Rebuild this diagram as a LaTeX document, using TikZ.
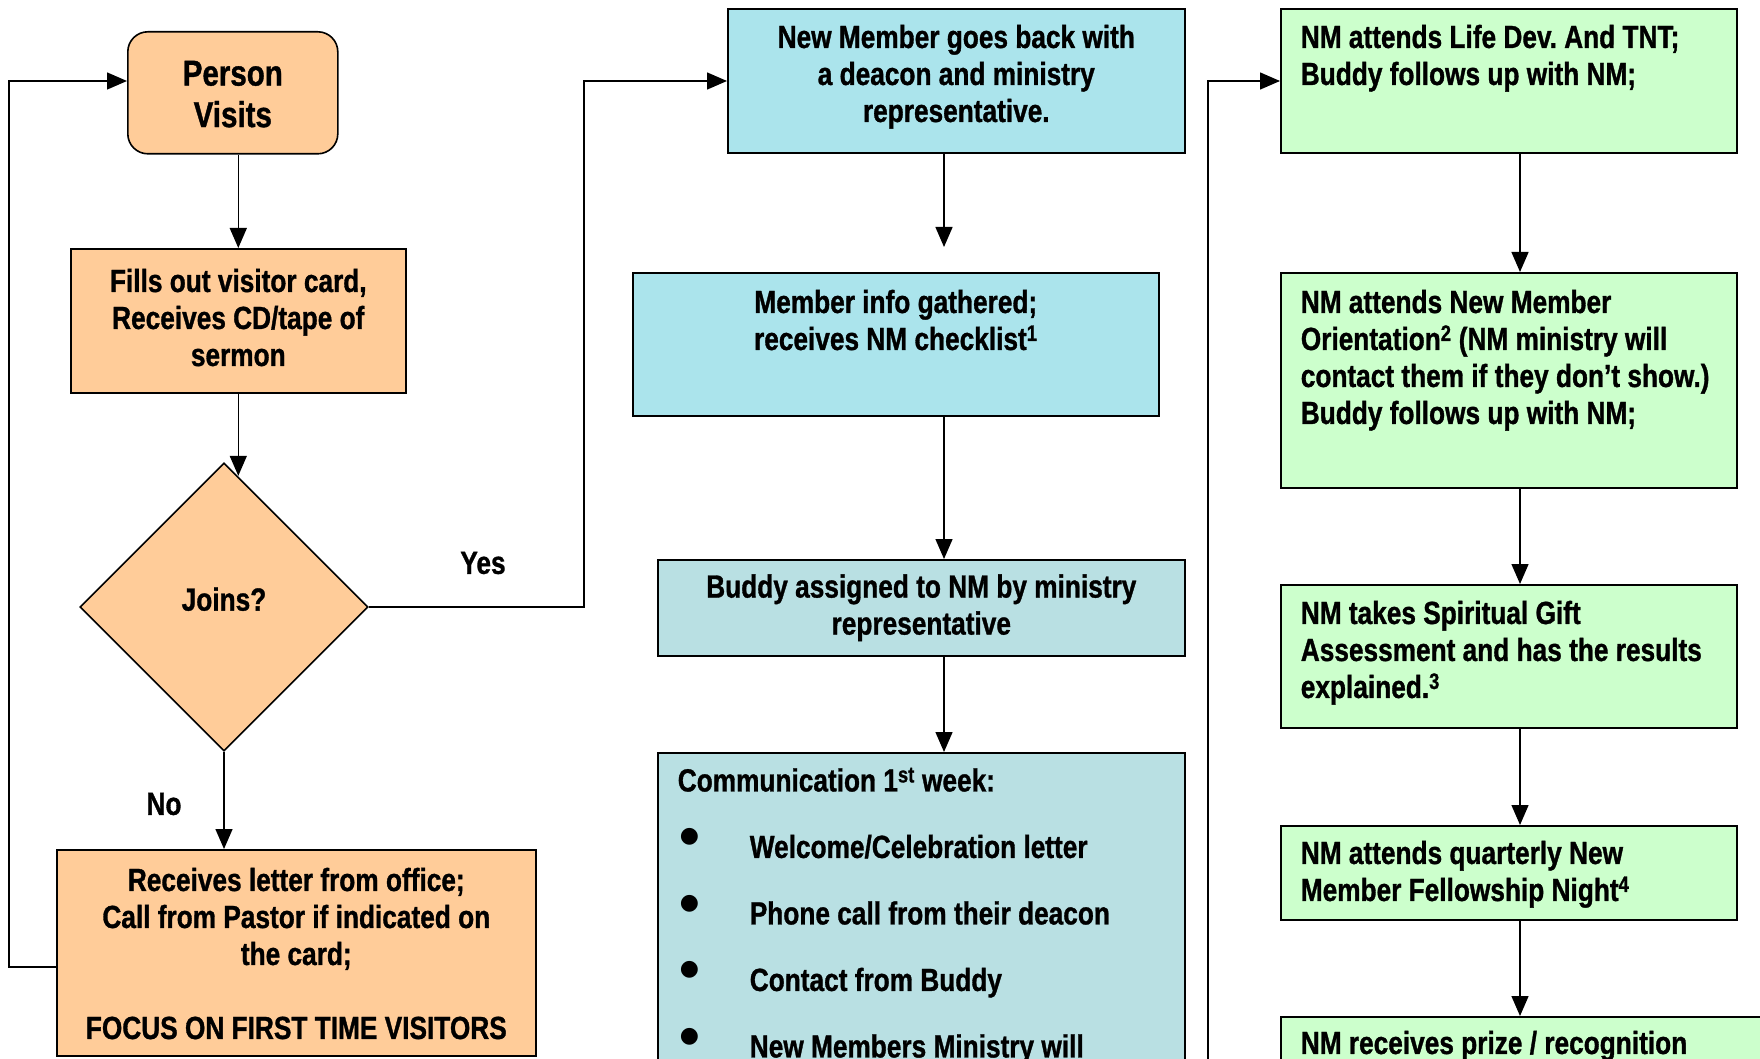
\documentclass[tikz,border=0pt]{standalone}
\usepackage{fontspec}
\setmainfont{Liberation Sans}[FakeStretch=0.82, BoldFeatures={FakeBold=1}]
\newfontfamily\symfont{DejaVu Sans}
\usetikzlibrary{shapes.geometric,arrows.meta,calc}
\definecolor{peach}{HTML}{FFCC99}
\definecolor{cyanA}{HTML}{ABE4EC}
\definecolor{cyanB}{HTML}{B9E0E3}
\definecolor{mint}{HTML}{CCFFCC}
\newcommand\blt{\hspace*{22pt}\makebox[70pt][l]{\raisebox{15pt}{\symfont\mdseries\fontsize{22}{22}\selectfont ●}}}
\begin{document}
\frenchspacing
\begin{tikzpicture}[x=1pt,y=-1pt,
  font=\bfseries\fontsize{32}{37}\selectfont,
  box/.style={draw, line width=1.6pt, inner sep=0pt, anchor=north west},
  conn/.style={line width=1.4pt},
  arr/.style={conn, -{Triangle[width=17pt,length=20pt]}},
  lbl/.style={inner sep=0pt}]
\useasboundingbox (0,0) rectangle (1760,1059);
\clip (0,0) rectangle (1760,1059);

% left column
\node[box, fill=peach, rounded corners=20pt] (pv) at (127,31)
  {\parbox[t][122pt][t]{210pt}{\vspace*{29pt}\centering\fontsize{36}{41.5}\selectfont Person\\Visits}};
\node[box, fill=peach] (fill) at (70,248)
  {\parbox[t][144pt][t]{335pt}{\vspace*{20pt}\centering Fills out visitor card,\\ Receives CD/tape of\\ sermon}};
\node[draw, line width=1.6pt, fill=peach, diamond, aspect=1, minimum width=288pt,
  minimum height=288pt, inner sep=0pt] (join) at (224,607) {\raisebox{16pt}{Joins?}};
\node[box, fill=peach] (recv) at (56,849)
  {\parbox[t][206pt][t]{479pt}{\vspace*{18pt}\centering Receives letter from office;\\ Call from Pastor if indicated on\\ the card;\\[37pt] FOCUS ON FIRST TIME VISITORS}};

% middle column
\node[box, fill=cyanA] (nm) at (727,8)
  {\parbox[t][144pt][t]{457pt}{\vspace*{16pt}\centering New Member goes back with\\ a deacon and ministry\\ representative.}};
\node[box, fill=cyanA] (info) at (632,272)
  {\parbox[t][143pt][t]{526pt}{\vspace*{17pt}\centering Member info gathered;\\ receives NM checklist\textsuperscript{1}}};
\node[box, fill=cyanB] (buddy) at (657,559)
  {\parbox[t][96pt][c]{527pt}{\centering Buddy assigned to NM by ministry\\ representative}};
\node[box, fill=cyanB] (comm) at (657,752)
  {\parbox[t][340pt][t]{527pt}{\raggedright\vspace*{15pt}%
   \hspace*{20pt}Communication 1\textsuperscript{st} week:\\[29.5pt]
   \blt Welcome/Celebration letter\\[29.5pt]
   \blt Phone call from their deacon\\[29.5pt]
   \blt Contact from Buddy\\[29.5pt]
   \blt New Members Ministry will}};

% right column
\node[box, fill=mint] (g1) at (1280,8)
  {\parbox[t][144pt][t]{456pt}{\vspace*{16pt}\raggedright\leftskip=20pt NM attends Life Dev. And TNT;\\ Buddy follows up with NM;}};
\node[box, fill=mint] (g2) at (1280,272)
  {\parbox[t][215pt][t]{456pt}{\vspace*{17pt}\raggedright\leftskip=20pt NM attends New Member\\ Orientation\textsuperscript{2} (NM ministry will\\ contact them if they don’t show.)\\ Buddy follows up with NM;}};
\node[box, fill=mint] (g3) at (1280,584)
  {\parbox[t][143pt][t]{456pt}{\vspace*{16pt}\raggedright\leftskip=20pt NM takes Spiritual Gift\\ Assessment and has the results\\ explained.\textsuperscript{3}}};
\node[box, fill=mint] (g4) at (1280,825)
  {\parbox[t][94pt][t]{456pt}{\vspace*{15pt}\raggedright\leftskip=20pt NM attends quarterly New\\ Member Fellowship Night\textsuperscript{4}}};
\node[box, fill=mint] (g5) at (1280,1016)
  {\parbox[t][100pt][t]{520pt}{\vspace*{14pt}\raggedright\leftskip=20pt NM receives prize / recognition}};

% labels
\node[lbl] (yes) at (483,563) {Yes};
\node[lbl] (no) at (164,804) {No};

% connectors left
\draw[arr] (fill.north |- pv.south) -- (fill.north);
\draw[arr] (fill.south) -- (fill.south |- {$(join.north)!0.094!(join.east)$});
\draw[arr] (join.south) -- (join.south |- recv.north);
\coordinate (yesturn) at (584,81);
\draw[arr] (join.east) -| (yesturn) -- (yesturn -| nm.west);
\coordinate (loopx) at (9,967);
\coordinate (looptop) at (9,81);
\draw[arr] (recv.west |- loopx) -- (loopx) -- (looptop) -- (looptop -| pv.west);

% connectors middle
\coordinate (nmtip) at (944,247);
\draw[arr] (nm.south -| nmtip) -- (nmtip);
\draw[arr] (info.south -| nmtip) -- (nmtip |- buddy.north);
\draw[arr] (buddy.south -| nmtip) -- (nmtip |- comm.north);

% connectors right
\coordinate (rbot) at (1208,1059);
\coordinate (rtop) at (1208,81);
\draw[arr] (rbot) -- (rtop) -- (rtop -| g1.west);
\coordinate (gx) at (1520,0);
\draw[arr] (g1.south -| gx) -- (gx |- g2.north);
\draw[arr] (g2.south -| gx) -- (gx |- g3.north);
\draw[arr] (g3.south -| gx) -- (gx |- g4.north);
\draw[arr] (g4.south -| gx) -- (gx |- g5.north);
\end{tikzpicture}
\end{document}
